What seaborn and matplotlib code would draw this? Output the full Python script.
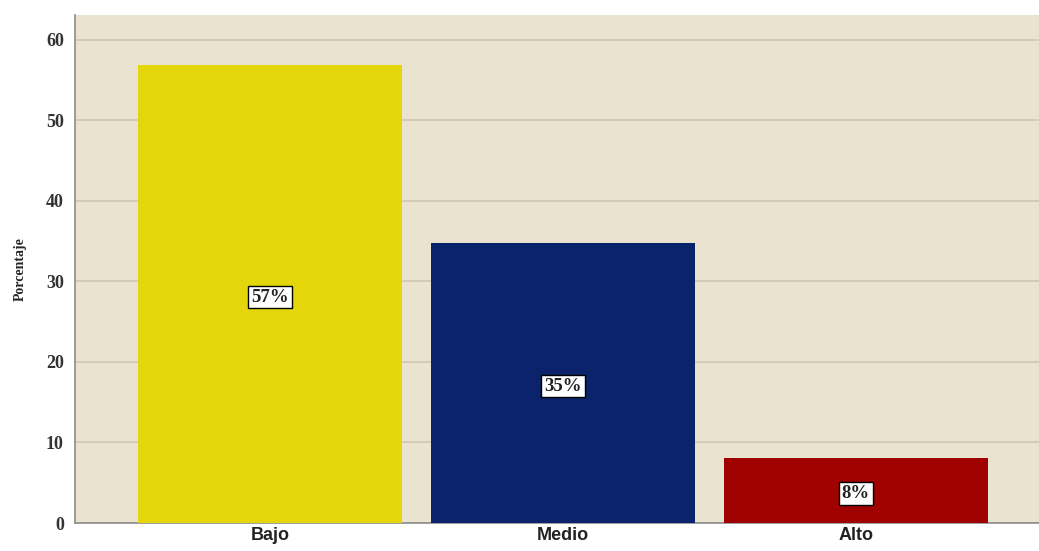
import seaborn as sns
import pandas as pd
import numpy as np
import matplotlib.pyplot as plt

# datos del grafico
niveles = ["Bajo", "Medio", "Alto"]
porcentajes = [56.9, 34.8, 8.1]
etiquetas = ["57%", "35%", "8%"]
colores = ["#E3D60B", "#0B236B", "#A00202"]

df = pd.DataFrame({"Nivel": niveles, "Porcentaje": porcentajes})

sns.set_style("white")
fig = plt.figure(figsize=(10.39, 5.51), dpi=100)
ax = fig.add_axes([75 / 1039, 28 / 551, (1039 - 75) / 1039, (523 - 15) / 551])
ax.set_facecolor("#EAE3D0")

sns.barplot(data=df, x="Nivel", y="Porcentaje", hue="Nivel", palette=colores,
            width=0.9, saturation=1, legend=False, ax=ax, zorder=3,
            edgecolor="none", linewidth=0)

for i, p in enumerate(porcentajes):
    ax.text(i, p / 2 - 0.4, etiquetas[i], ha="center", va="center", fontsize=13.5,
            fontweight="bold", family="Liberation Serif", color="#222222", zorder=5,
            bbox=dict(boxstyle="square,pad=0.15", fc="white", ec="black", lw=1))

ax.set_ylim(0, 63.1)
ax.set_xlim(-0.666, 2.625)
ax.set_yticks([0, 10, 20, 30, 40, 50, 60])
ax.yaxis.grid(True, color="#D0C7B3", lw=1.2, zorder=0)
ax.set_axisbelow(True)

for s in ["top", "right"]:
    ax.spines[s].set_visible(False)
ax.spines["left"].set_color("#8C8C8C")
ax.spines["bottom"].set_color("#8C8C8C")
ax.spines["left"].set_linewidth(1.2)
ax.spines["bottom"].set_linewidth(1.2)

ax.tick_params(axis="both", length=0, pad=8)
for t in ax.get_yticklabels():
    t.set_family("Liberation Serif")
    t.set_fontweight("bold")
    t.set_fontsize(13)
    t.set_color("#333333")
for t in ax.get_xticklabels():
    t.set_family("Liberation Sans")
    t.set_fontweight("bold")
    t.set_fontsize(13)
    t.set_color("#222222")
ax.tick_params(axis="x", pad=3)

ax.set_xlabel("")
ax.set_ylabel("Porcentaje", family="Liberation Serif", fontweight="bold",
              fontsize=10, labelpad=14)

fig.savefig("out.png", dpi=100)
